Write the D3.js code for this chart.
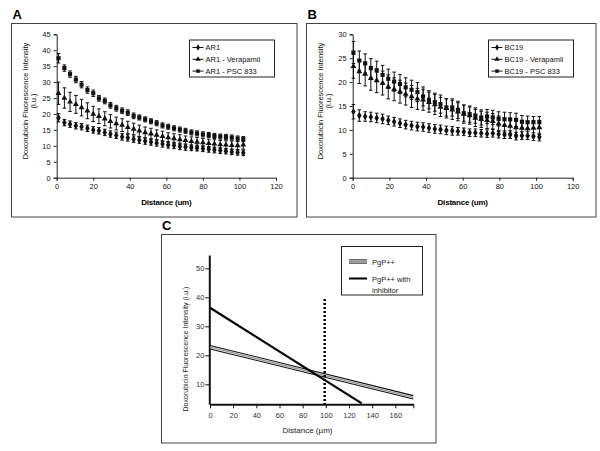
<!DOCTYPE html>
<html><head><meta charset="utf-8">
<script src="https://cdn.jsdelivr.net/npm/d3@7"></script>
<style>body{margin:0;background:#fff}svg{display:block}text{font-family:"Liberation Sans",Arial,sans-serif}</style>
</head><body>
<svg id="c" width="600" height="451"></svg>
<script>
// ---------- DATA ----------
const distance = [1,4.2,7.3,10.5,13.6,16.8,20,23.1,26.3,29.4,32.6,35.8,38.9,42.1,45.2,48.4,51.6,54.7,57.9,61,64.2,67.4,70.5,73.7,76.8,80,83.2,86.3,89.5,92.6,95.8,99,102.1];
const distanceB = [0.4,3.6,6.8,9.9,13.1,16.3,19.4,22.6,25.8,28.9,32.1,35.3,38.4,41.6,44.8,47.9,51.1,54.3,57.4,60.6,63.8,66.9,70.1,73.3,76.4,79.6,82.8,85.9,89.1,92.3,95.4,98.6,101.8];

const seriesA = ["AR1", "AR1 - Verapamil", "AR1 - PSC 833"];
const ar1 =      [18.8,17.3,16.8,16.3,16,15.5,15,14.7,14.2,13.7,13.3,12.8,12.5,12.1,11.8,11.5,11.2,10.9,10.6,10.3,10.1,9.8,9.6,9.4,9.3,9.1,8.9,8.7,8.5,8.3,8.1,7.9,7.8];
const ar1Err =   [1.3,1,1,1,1,1,1,1,1,1,1,1,1,1,1,1,1,1,1,1,1,1,1,0.9,0.9,0.9,0.9,0.9,0.9,0.8,0.8,0.8,0.8];
const ar1Vera =  [26.5,25,23.8,23,22,21,20,19.3,18.5,17.7,17,16.5,15.8,15.3,14.7,14.2,13.8,13.4,13,12.6,12.3,12,11.7,11.4,11.2,11,10.8,10.6,10.4,10.3,10.2,10.1,10.3];
const ar1VeraErr=[3.5,3.2,3,2.8,2.6,2.5,2.4,2.3,2.2,2.1,2,2,1.9,1.8,1.8,1.7,1.7,1.6,1.6,1.5,1.5,1.5,1.4,1.4,1.4,1.3,1.3,1.3,1.3,1.3,1.3,1.3,1.3];
const ar1Psc =   [37.5,34.4,32.5,30.8,29.2,27.5,26.5,24.9,24.1,22.7,21.8,21,20.4,19.4,18.9,18.3,17.7,17.1,16.4,16,15.5,15.1,14.7,14.2,13.9,13.6,13.4,13.1,12.9,12.8,12.6,12.3,12.1];
const ar1PscErr= [1.5,1,1,1,1,1,1,0.9,0.9,0.9,0.9,0.9,0.9,0.9,0.8,0.8,0.8,0.8,0.8,0.8,0.8,0.8,0.8,0.8,0.8,0.8,0.8,0.8,0.8,0.8,0.8,0.8,0.8];

const seriesB = ["BC19", "BC19 - Verapamil", "BC19 - PSC 833"];
const bc19 =      [13.8,13,12.8,12.7,12.5,12.3,12,11.7,11.4,11.1,10.9,10.7,10.6,10.4,10.2,10.1,9.9,9.8,9.7,9.6,9.4,9.4,9.3,9.2,9.3,9.1,9,9,8.7,8.8,8.8,8.6,8.5];
const bc19Err =   [1.5,1.2,1,1,1,1,0.9,0.9,0.9,0.9,0.9,0.9,0.9,0.9,0.9,0.9,0.9,0.9,0.8,0.8,0.8,0.8,0.8,0.8,0.8,0.8,0.8,0.8,0.8,0.8,0.8,0.8,0.8];
const bc19Vera =  [23.3,22.2,21.7,20.8,20.3,19.8,19,18.5,18,17.5,17,16.5,16.3,15.8,15.3,14.8,14.5,14.2,13.8,13.3,13,12.5,12.2,12,11.8,11.3,11,10.8,10.5,10.4,10.3,10.4,10.5];
const bc19VeraErr=[2.5,2.5,2.5,2.5,2.5,2.5,2.5,2.4,2.4,2.3,2.3,2.2,2.2,2.1,2.1,2,2,2,1.9,1.9,1.8,1.8,1.7,1.7,1.6,1.6,1.5,1.5,1.5,1.5,1.5,1.5,1.5];
const bc19Psc =   [26.2,24.5,23.9,22.9,22.4,21.5,20.7,20.1,19.6,18.9,18.4,17.9,17,16.3,15.8,15.4,14.7,14.7,14.2,13.5,13.3,13,12.6,12.8,12.6,12.3,12.2,12.2,12.1,11.7,11.6,11.6,11.6];
const bc19PscErr= [2.3,2,2,2,2,2,2,2,2,2,2,2,2,1.9,1.9,1.9,1.8,1.8,1.8,1.7,1.7,1.6,1.6,1.5,1.5,1.5,1.5,1.4,1.4,1.3,1.3,1.2,1.2];

const xTicksAB = [0,20,40,60,80,100,120];
const yTicksA = [0,5,10,15,20,25,30,35,40,45];
const yTicksB = [0,5,10,15,20,25,30];

// Panel C
const cLegend = ["PgP++", "PgP++ with", "inhibitor"];
const pgpX = [0, 175.5];
const pgpUpper = [23.4, 6.1];
const pgpMid = [22.8, 5.5];
const pgpLower = [22.2, 4.9];
const inhX = [0, 131];
const inhY = [36.4, 3.4];
const cutoffX = 99;
const cutoffTop = 39.4;
const xTicksC = [0,20,40,60,80,100,120,140,160];
const yTicksC = [10,20,30,40,50];

// ---------- DRAW ----------
const svg = d3.select("#c");
const F = '"Liberation Sans",Arial,sans-serif';

function panelAB(o){
  const g = svg.append("g");
  g.append("rect").attr("x",o.fx).attr("y",o.fy).attr("width",o.fw).attr("height",o.fh)
    .attr("fill","#fff").attr("stroke","#444").attr("stroke-width",1);
  g.append("text").attr("x",o.fx+1).attr("y",19).text(o.label)
    .attr("font-size",13).attr("font-weight","bold");
  const x = d3.scaleLinear().domain([0,120]).range(o.xr);
  const y = d3.scaleLinear().domain(o.yd).range([177.7,34.3]);
  const ya = g.append("g").attr("transform",`translate(${o.xr[0]},0)`)
    .call(d3.axisLeft(y).tickValues(o.yt).tickSize(3).tickPadding(3));
  const xa = g.append("g").attr("transform",`translate(0,177.7)`)
    .call(d3.axisBottom(x).tickValues(xTicksAB).tickSize(3).tickPadding(3));
  [ya,xa].forEach(a=>{a.selectAll("text").attr("font-size",7.5).attr("font-family",F).attr("fill","#111");
    a.selectAll("line,path").attr("stroke","#222");});
  g.append("text").attr("x",(o.xr[0]+o.xr[1])/2).attr("y",205).attr("text-anchor","middle")
    .attr("font-size",8).attr("font-weight","bold").attr("letter-spacing","-0.2").text("Distance (um)");
  const yt = g.append("text").attr("transform",`translate(${o.fx+16.5},101) rotate(-90)`)
    .attr("text-anchor","middle").attr("font-size",7.5).attr("fill","#111");
  yt.append("tspan").attr("x",0).attr("dy",0).text("Doxorubicin Fluorescence Intensity");
  yt.append("tspan").attr("x",0).attr("dy",7.5).text("(i.u.)");
  const syms = [d3.symbolDiamond, d3.symbolTriangle, d3.symbolSquare];
  o.series.forEach((s,si)=>{
    const sg = g.append("g");
    s.v.forEach((v,i)=>{
      const cx = x(s.xs[i]), e = s.e[i];
      sg.append("line").attr("x1",cx).attr("x2",cx).attr("y1",y(v+e)).attr("y2",y(v-e)).attr("stroke","#111").attr("stroke-width",1);
      [v+e,v-e].forEach(w=>sg.append("line").attr("x1",cx-1.8).attr("x2",cx+1.8).attr("y1",y(w)).attr("y2",y(w)).attr("stroke","#111").attr("stroke-width",1));
      sg.append("path").attr("transform",`translate(${cx},${y(v)})`)
        .attr("d",d3.symbol().type(syms[si]).size(si==1?15:17)()).attr("fill","#111");
    });
  });
  // legend
  const lg = g.append("g");
  lg.append("rect").attr("x",o.lx).attr("y",40).attr("width",85).attr("height",37)
    .attr("fill","#fff").attr("stroke","#222").attr("stroke-width",1);
  o.names.forEach((n,i)=>{
    const ly = 47.5+i*11.8;
    lg.append("line").attr("x1",o.lx+3).attr("x2",o.lx+14).attr("y1",ly).attr("y2",ly).attr("stroke","#111").attr("stroke-width",1);
    lg.append("path").attr("transform",`translate(${o.lx+8.5},${ly})`)
      .attr("d",d3.symbol().type(syms[i]).size(12)()).attr("fill","#111");
    lg.append("text").attr("x",o.lx+16).attr("y",ly+2.7).attr("font-size",7.5).attr("fill","#111").text(n);
  });
}

panelAB({fx:11.5,fy:23.5,fw:285.5,fh:193.5,label:"A",xr:[56.7,276],yd:[0,45],yt:yTicksA,lx:189.5,names:seriesA,
  series:[{xs:distance,v:ar1,e:ar1Err},{xs:distance,v:ar1Vera,e:ar1VeraErr},{xs:distance,v:ar1Psc,e:ar1PscErr}]});
panelAB({fx:306.5,fy:23.5,fw:289.5,fh:193.5,label:"B",xr:[352.7,572.7],yd:[0,30],yt:yTicksB,lx:488.5,names:seriesB,
  series:[{xs:distanceB,v:bc19,e:bc19Err},{xs:distanceB,v:bc19Vera,e:bc19VeraErr},{xs:distanceB,v:bc19Psc,e:bc19PscErr}]});

// ----- Panel C -----
const gc = svg.append("g");
gc.append("rect").attr("x",161.5).attr("y",234.5).attr("width",274.5).attr("height",208.5)
  .attr("fill","#fff").attr("stroke","#444").attr("stroke-width",1);
svg.append("text").attr("x",162).attr("y",230).text("C").attr("font-size",13).attr("font-weight","bold");
const xc = d3.scaleLinear().domain([0,175.5]).range([210,413.3]);
const yc = d3.scaleLinear().domain([3.1,54.6]).range([404.3,255]);
const xac = gc.append("g").attr("transform","translate(0,404.3)")
  .call(d3.axisBottom(xc).tickValues(xTicksC.concat([175.5])).tickFormat(d=>d>170?"":d).tickSize(4).tickPadding(4).tickSizeOuter(0));
const yac = gc.append("g").attr("transform","translate(209.3,0)")
  .call(d3.axisLeft(yc).tickValues(yTicksC).tickSize(4).tickPadding(1).tickSizeOuter(0));
[xac,yac].forEach(a=>{a.selectAll("text").attr("font-size",7.5).attr("font-family",F).attr("fill","#333");
  a.selectAll("line").attr("stroke","#111").attr("stroke-width",1);
  a.select("path.domain").attr("stroke","#111").attr("stroke-width",2);});
gc.append("text").attr("x",307.5).attr("y",433).attr("text-anchor","middle").attr("font-size",8).attr("fill","#222").text("Distance (µm)");
gc.append("text").attr("transform","translate(188,349) rotate(-90)").attr("text-anchor","middle")
  .attr("font-size",7).attr("fill","#222").text("Doxorubicin Fluorescence Intensity (i.u.)");

const lineC = (xs,ys)=>d3.line()(xs.map((d,i)=>[xc(d),yc(ys[i])]));
gc.append("path").attr("d",lineC(pgpX,pgpMid)).attr("stroke","#999").attr("stroke-width",1.4).attr("fill","none");
gc.append("path").attr("d",lineC(pgpX,pgpUpper)).attr("stroke","#111").attr("stroke-width",1.1).attr("fill","none");
gc.append("path").attr("d",lineC(pgpX,pgpLower)).attr("stroke","#111").attr("stroke-width",1.1).attr("fill","none");
gc.append("path").attr("d",lineC(inhX,inhY)).attr("stroke","#000").attr("stroke-width",2.2).attr("fill","none");
gc.append("line").attr("x1",xc(cutoffX)).attr("x2",xc(cutoffX)).attr("y1",yc(cutoffTop)).attr("y2",yc(3.1))
  .attr("stroke","#000").attr("stroke-width",2.5).attr("stroke-dasharray","2,2");

// legend C
gc.append("rect").attr("x",341.5).attr("y",246.5).attr("width",81).attr("height",48.5)
  .attr("fill","#fff").attr("stroke","#222").attr("stroke-width",1);
[-1.6,1.6].forEach(d=>gc.append("line").attr("x1",349).attr("x2",367).attr("y1",261.5+d).attr("y2",261.5+d).attr("stroke","#111").attr("stroke-width",1));
gc.append("line").attr("x1",349).attr("x2",367).attr("y1",261.5).attr("y2",261.5).attr("stroke","#999").attr("stroke-width",1);
gc.append("line").attr("x1",349).attr("x2",367).attr("y1",278.5).attr("y2",278.5).attr("stroke","#000").attr("stroke-width",2);
gc.append("text").attr("x",372).attr("y",264.5).attr("font-size",7.5).attr("fill","#222").text(cLegend[0]);
gc.append("text").attr("x",372).attr("y",281.5).attr("font-size",7.5).attr("fill","#222").text(cLegend[1]);
gc.append("text").attr("x",372).attr("y",292.5).attr("font-size",7.5).attr("fill","#222").text(cLegend[2]);
</script>
</body></html>
